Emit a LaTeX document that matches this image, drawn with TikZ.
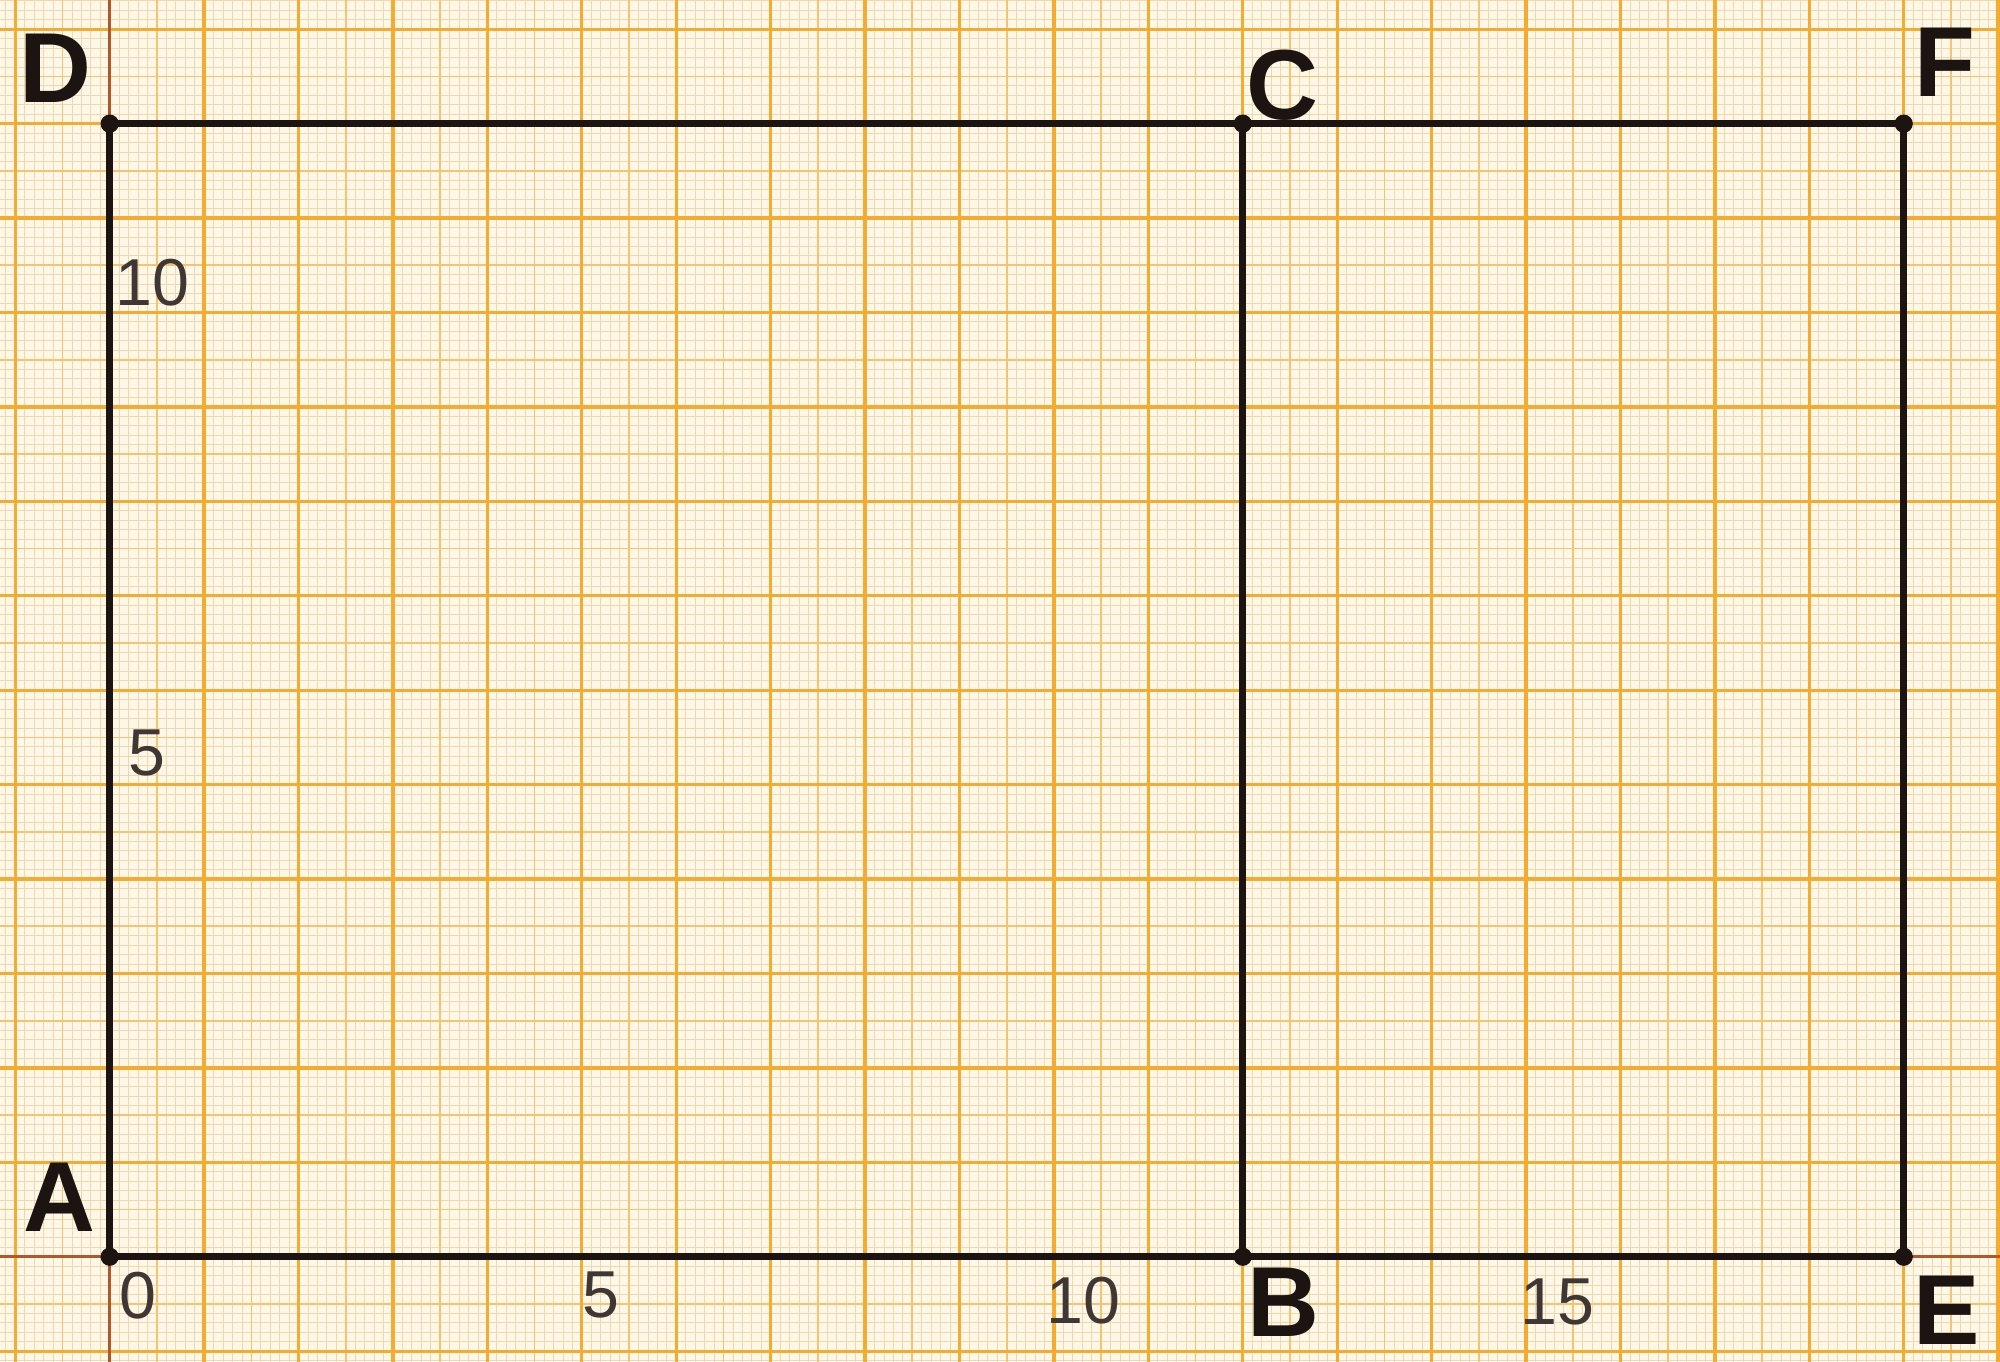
\documentclass[tikz,border=0pt]{standalone}
\usepackage{fontspec}
\setsansfont{Liberation Sans}
\usetikzlibrary{positioning}

\definecolor{paper}{RGB}{253,247,232}
\definecolor{major}{RGB}{243,172,48}
\definecolor{medium}{RGB}{244,196,112}
\definecolor{minor}{RGB}{241,216,172}
\definecolor{axisline}{RGB}{178,88,40}
\definecolor{ink}{RGB}{28,20,16}

\tikzset{
  edge/.style={ink,line width=2.2pt,line cap=round,line join=round},
  corner/.style={circle,fill=ink,inner sep=0pt,minimum size=5.5pt},
  letter/.style={ink,font=\sffamily\bfseries\fontsize{30}{30}\selectfont,inner sep=1pt},
  tick/.style={ink!85,font=\sffamily\fontsize{20}{20}\selectfont,inner sep=1pt}
}

\begin{document}
\begin{tikzpicture}
\useasboundingbox (-1.162,-1.108) rectangle (20.02,13.31);
\fill[paper] (-1.162,-1.108) rectangle (20.02,13.31);
\begin{scope}
\clip (-1.162,-1.108) rectangle (20.02,13.31);
% graph paper
\draw[minor,line width=0.25pt,step=0.1] (-1.3,-1.3) grid (20.1,13.4);
\draw[medium,line width=0.5pt,step=0.5] (-1.3,-1.3) grid (20.1,13.4);
\draw[major,line width=1pt,step=1] (-1.3,-1.3) grid (20.1,13.4);
% axes
\draw[axisline,line width=0.8pt] (-1.3,0)--(20.1,0);
\draw[axisline,line width=0.8pt] (0,-1.3)--(0,13.4);
\end{scope}

\coordinate (A) at (0,0);
\coordinate (B) at (12,0);
\coordinate (C) at (12,12);
\coordinate (D) at (0,12);
\coordinate (E) at (19,0);
\coordinate (F) at (19,12);

\draw[edge] (A)--(B)--(C)--(D)--cycle;
\draw[edge] (B)--(E)--(F)--(C);
\foreach \p in {A,B,C,D,E,F} \node[corner] at (\p) {};

\node[letter] (labA) at (-0.53,0.63) {A};
\node[letter] (labB) at (12.43,-0.48) {B};
\node[letter] (labC) at (12.42,12.41) {C};
\node[letter] (labD) at (-0.58,12.59) {D};
\node[letter] (labE) at (19.46,-0.57) {E};
\node[letter] (labF) at (19.44,12.65) {F};

\node[tick] (x0) at (0.30,-0.41) {0};
\node[tick] (x5) at (5.20,-0.41) {5};
\node[tick] (x10) at (10.31,-0.46) {10};
\node[tick] (x15) at (15.33,-0.48) {15};
\node[tick] (y5) at (0.39,5.33) {5};
\node[tick] (y10) at (0.45,10.32) {10};
\end{tikzpicture}
\end{document}
